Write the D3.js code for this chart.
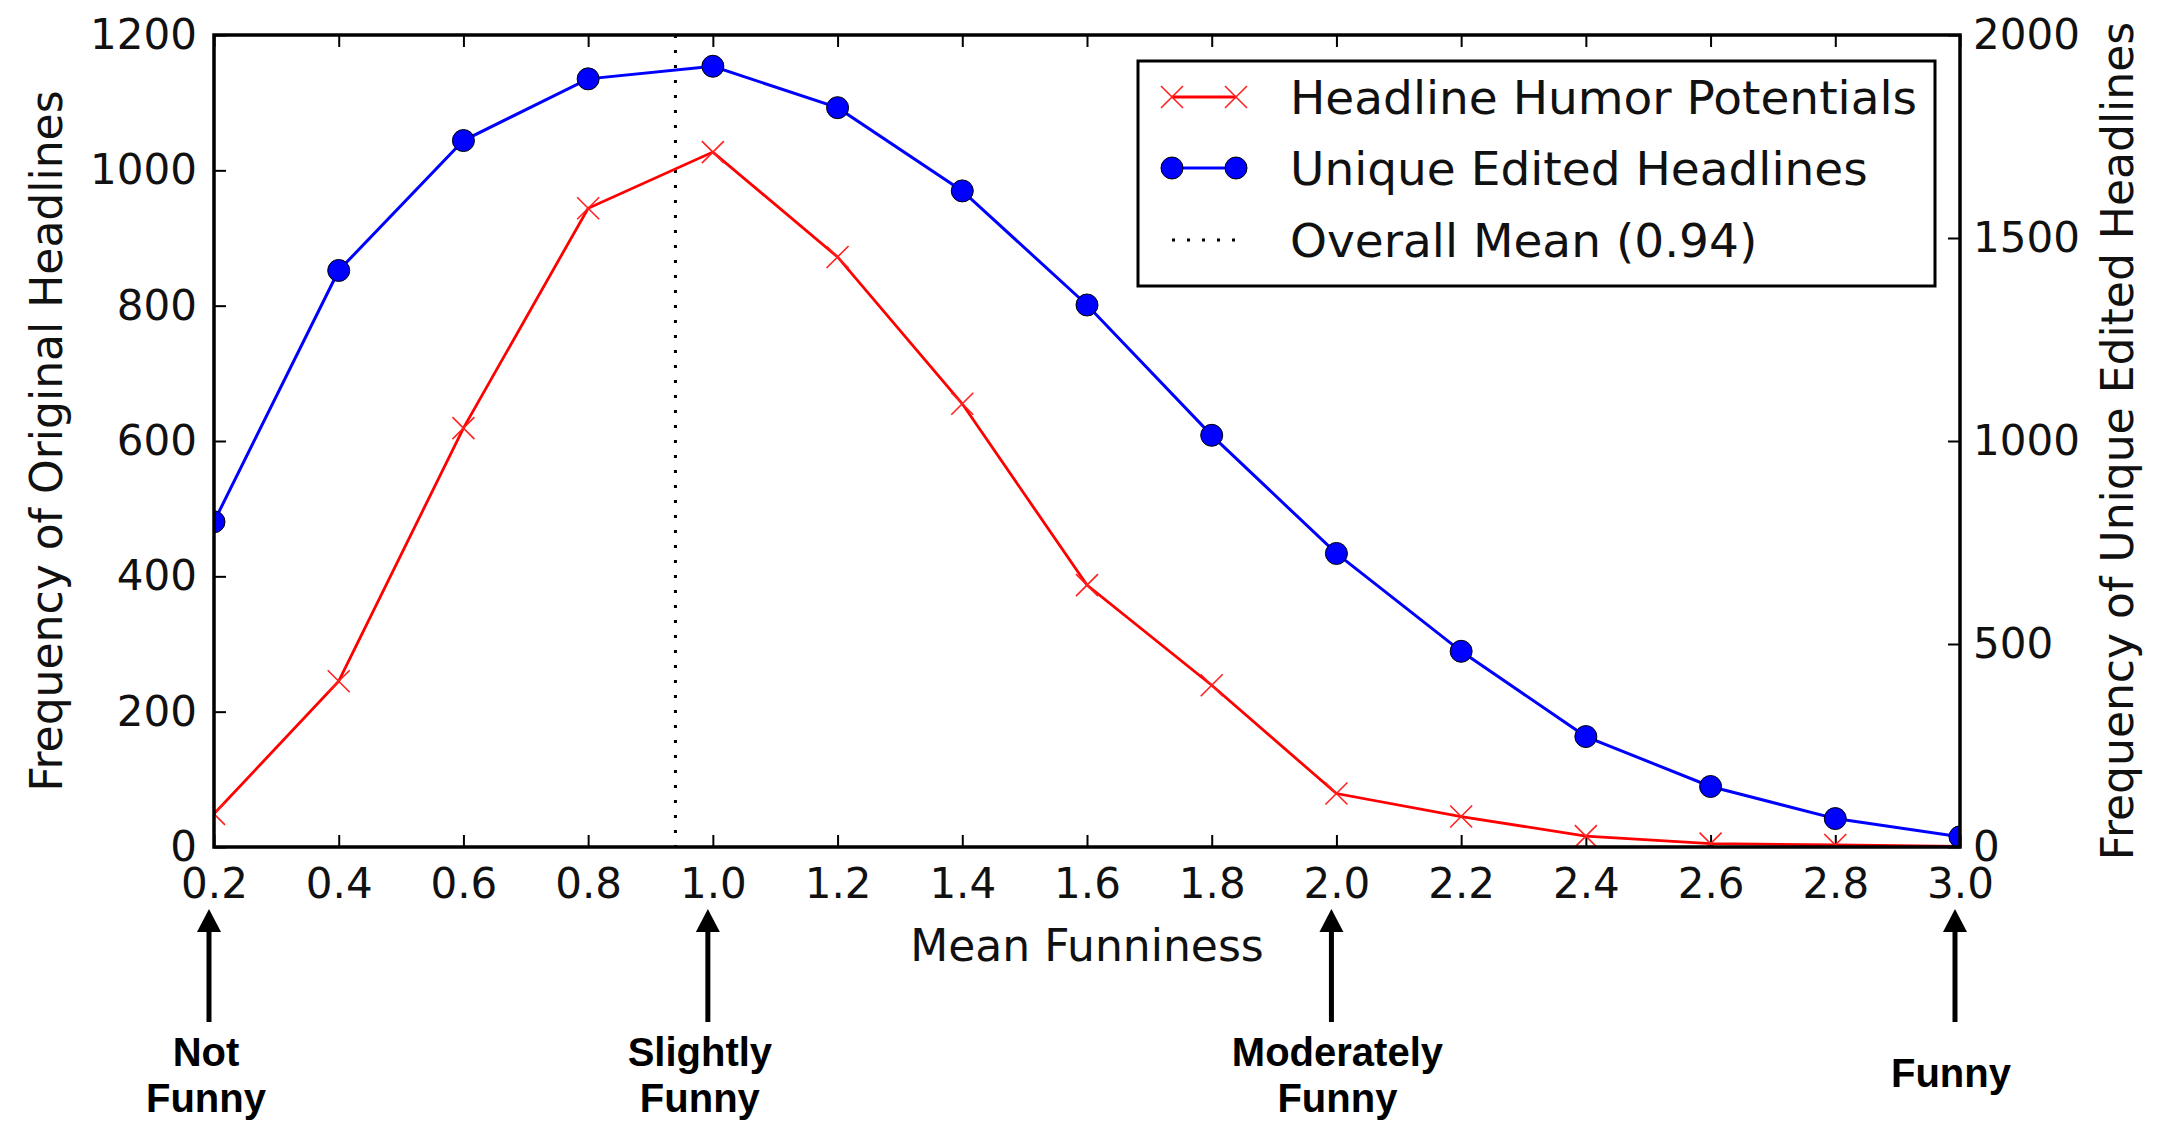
<!DOCTYPE html>
<html>
<head>
<meta charset="utf-8">
<script src="https://cdn.jsdelivr.net/npm/d3@7"></script>
<style>
  html, body { margin: 0; padding: 0; background: #fff; }
  svg { display: block; }
</style>
</head>
<body>
<svg id="chart" width="2160" height="1121"></svg>
<script>
// ---- data ----
const funniness = [0.2, 0.4, 0.6, 0.8, 1.0, 1.2, 1.4, 1.6, 1.8, 2.0, 2.2, 2.4, 2.6, 2.8, 3.0];
const humorPotentials = [49, 245, 619, 944, 1027, 872, 655, 387, 239, 79, 45, 16, 5, 3, 1];
const uniqueEdited = [801, 1420, 1740, 1892, 1923, 1821, 1616, 1335, 1014, 723, 482, 272, 149, 70, 25];
const overallMean = 0.94;
const xTicks = [0.2, 0.4, 0.6, 0.8, 1.0, 1.2, 1.4, 1.6, 1.8, 2.0, 2.2, 2.4, 2.6, 2.8, 3.0];
const yLeftTicks = [0, 200, 400, 600, 800, 1000, 1200];
const yRightTicks = [0, 500, 1000, 1500, 2000];
const legendLabels = ["Headline Humor Potentials", "Unique Edited Headlines", "Overall Mean (0.94)"];
const annotValues = [0.2, 1.0, 2.0, 3.0];
const annotLabels = [["Not", "Funny"], ["Slightly", "Funny"], ["Moderately", "Funny"], ["Funny"]];

// ---- layout ----
const L = 214, R = 1960, T = 35, B = 847;
const annotTextDx = [-3, -8, 6, -4];
const svg = d3.select("#chart");
const x = d3.scaleLinear().domain([0.2, 3.0]).range([L, R]);
const yL = d3.scaleLinear().domain([0, 1200]).range([B, T]);
const yR = d3.scaleLinear().domain([0, 2000]).range([B, T]);
const FONT = "'DejaVu Sans', sans-serif";

svg.append("defs").append("clipPath").attr("id", "plotclip")
  .append("rect").attr("x", L).attr("y", T).attr("width", R - L).attr("height", B - T);

// axes
function styleAxis(g, fs) {
  g.select(".domain").remove();
  g.selectAll(".tick line").attr("stroke", "#000").attr("stroke-width", 2);
  g.selectAll(".tick text").attr("fill", "#111").style("font-family", FONT).style("font-size", fs + "px");
}
const fmt1 = d3.format(".1f");
svg.append("g").attr("transform", `translate(0,${B})`)
  .call(d3.axisBottom(x).tickValues(xTicks).tickFormat(fmt1).tickSizeInner(-12).tickSizeOuter(0).tickPadding(21))
  .call(g => styleAxis(g, 42));
svg.append("g").attr("transform", `translate(0,${T})`)
  .call(d3.axisTop(x).tickValues(xTicks).tickFormat("").tickSizeInner(-12).tickSizeOuter(0))
  .call(g => styleAxis(g, 42));
svg.append("g").attr("transform", `translate(${L},0)`)
  .call(d3.axisLeft(yL).tickValues(yLeftTicks).tickFormat(d3.format("d")).tickSizeInner(-12).tickSizeOuter(0).tickPadding(17))
  .call(g => styleAxis(g, 42));
svg.append("g").attr("transform", `translate(${R},0)`)
  .call(d3.axisRight(yR).tickValues(yRightTicks).tickFormat(d3.format("d")).tickSizeInner(-12).tickSizeOuter(0).tickPadding(13))
  .call(g => styleAxis(g, 42));

// plot content
const plot = svg.append("g").attr("clip-path", "url(#plotclip)");

// mean line
plot.append("line")
  .attr("x1", x(overallMean)).attr("x2", x(overallMean))
  .attr("y1", T).attr("y2", B)
  .attr("stroke", "#000").attr("stroke-width", 3).attr("stroke-dasharray", "3,12");

const redData = funniness.map((f, i) => [f, humorPotentials[i]]);
const blueData = funniness.map((f, i) => [f, uniqueEdited[i]]);

plot.append("path").datum(redData)
  .attr("fill", "none").attr("stroke", "#ff0000").attr("stroke-width", 2.8)
  .attr("d", d3.line().x(d => x(d[0])).y(d => yL(d[1])));
plot.selectAll(".xmark").data(redData).join("path")
  .attr("class", "xmark")
  .attr("transform", d => `translate(${x(d[0])},${yL(d[1])})`)
  .attr("d", "M-11,-11L11,11M-11,11L11,-11")
  .attr("stroke", "#ff2020").attr("stroke-width", 1.6).attr("fill", "none");

plot.append("path").datum(blueData)
  .attr("fill", "none").attr("stroke", "#0000ff").attr("stroke-width", 3)
  .attr("d", d3.line().x(d => x(d[0])).y(d => yR(d[1])));
plot.selectAll(".dot").data(blueData).join("circle")
  .attr("class", "dot")
  .attr("cx", d => x(d[0])).attr("cy", d => yR(d[1])).attr("r", 11)
  .attr("fill", "#0000ff").attr("stroke", "#000").attr("stroke-width", 1);

// frame
svg.append("rect").attr("x", L).attr("y", T).attr("width", R - L).attr("height", B - T)
  .attr("fill", "none").attr("stroke", "#000").attr("stroke-width", 3.5);

// axis labels
svg.append("text").attr("x", (L + R) / 2).attr("y", 961).attr("text-anchor", "middle")
  .style("font-family", FONT).style("font-size", "44px").attr("fill", "#111").text("Mean Funniness");
svg.append("text").attr("transform", `translate(62,${(T + B) / 2}) rotate(-90)`).attr("text-anchor", "middle")
  .style("font-family", FONT).style("font-size", "44px").attr("fill", "#111").text("Frequency of Original Headlines");
svg.append("text").attr("transform", `translate(2133,${(T + B) / 2}) rotate(-90)`).attr("text-anchor", "middle")
  .style("font-family", FONT).style("font-size", "44px").attr("fill", "#111").text("Frequency of Unique Edited Headlines");

// legend
const lg = svg.append("g");
lg.append("rect").attr("x", 1138).attr("y", 61).attr("width", 797).attr("height", 225)
  .attr("fill", "#fff").attr("stroke", "#000").attr("stroke-width", 3);
const rowsY = [97, 168, 240];
const sx1 = 1172, sx2 = 1236;
lg.append("line").attr("x1", sx1).attr("x2", sx2).attr("y1", rowsY[0]).attr("y2", rowsY[0])
  .attr("stroke", "#ff0000").attr("stroke-width", 2.8);
[sx1, sx2].forEach(px => lg.append("path")
  .attr("transform", `translate(${px},${rowsY[0]})`)
  .attr("d", "M-11,-11L11,11M-11,11L11,-11")
  .attr("stroke", "#ff2020").attr("stroke-width", 1.6));
lg.append("line").attr("x1", sx1).attr("x2", sx2).attr("y1", rowsY[1]).attr("y2", rowsY[1])
  .attr("stroke", "#0000ff").attr("stroke-width", 3);
[sx1, sx2].forEach(px => lg.append("circle").attr("cx", px).attr("cy", rowsY[1]).attr("r", 11)
  .attr("fill", "#0000ff").attr("stroke", "#000").attr("stroke-width", 1));
lg.append("line").attr("x1", sx1).attr("x2", sx2).attr("y1", rowsY[2]).attr("y2", rowsY[2])
  .attr("stroke", "#000").attr("stroke-width", 3).attr("stroke-dasharray", "3,12");
legendLabels.forEach((t, i) => lg.append("text").attr("x", 1290).attr("y", rowsY[i]).attr("dy", "0.36em")
  .style("font-family", FONT).style("font-size", "47px").attr("fill", "#111").text(t));

// annotations (arrows + labels)
const ann = svg.append("g");
annotValues.forEach((v, i) => {
  const ax = x(v) - 5;
  ann.append("path")
    .attr("d", `M${ax},909 L${ax - 12},932 L${ax + 12},932 Z`).attr("fill", "#000");
  ann.append("line").attr("x1", ax).attr("x2", ax).attr("y1", 930).attr("y2", 1022)
    .attr("stroke", "#000").attr("stroke-width", 5);
  const lines = annotLabels[i];
  const baselines = lines.length === 2 ? [1066, 1112] : [1087];
  lines.forEach((t, j) => ann.append("text")
    .attr("x", ax + annotTextDx[i]).attr("y", baselines[j]).attr("text-anchor", "middle")
    .style("font-family", "'Liberation Sans', Arial, sans-serif").style("font-weight", "bold")
    .style("font-size", "40px").attr("fill", "#000").text(t));
});
</script>
</body>
</html>
